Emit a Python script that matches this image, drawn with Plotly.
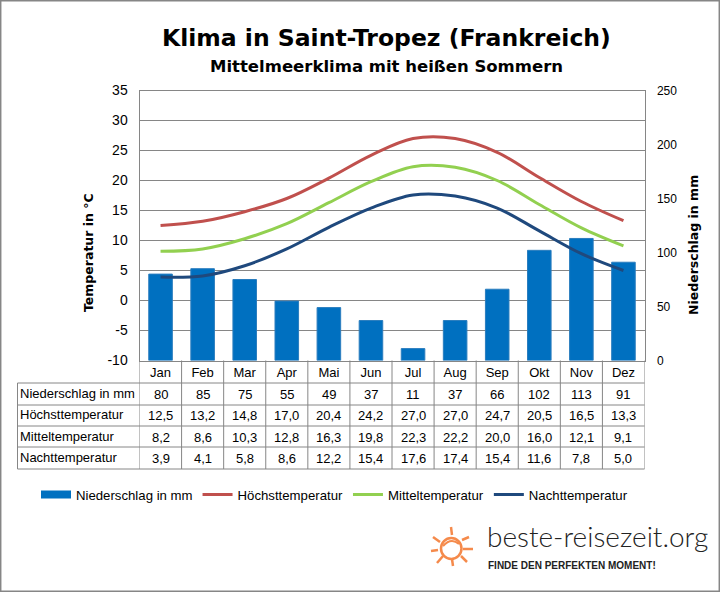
import plotly.graph_objects as go

months = ['Jan', 'Feb', 'Mar', 'Apr', 'Mai', 'Jun', 'Jul', 'Aug', 'Sep', 'Okt', 'Nov', 'Dez']
niederschlag = [80, 85, 75, 55, 49, 37, 11, 37, 66, 102, 113, 91]
hoechst = [12.5, 13.2, 14.8, 17.0, 20.4, 24.2, 27.0, 27.0, 24.7, 20.5, 16.5, 13.3]
mittel = [8.2, 8.6, 10.3, 12.8, 16.3, 19.8, 22.3, 22.2, 20.0, 16.0, 12.1, 9.1]
nacht = [3.9, 4.1, 5.8, 8.6, 12.2, 15.4, 17.6, 17.4, 15.4, 11.6, 7.8, 5.0]
row_labels = ['Niederschlag in mm', 'Höchsttemperatur', 'Mitteltemperatur', 'Nachttemperatur']
temp_ticks = [-10, -5, 0, 5, 10, 15, 20, 25, 30, 35]

W, H = 720, 592
FONT = 'Liberation Sans'
GREY = '#868686'
ORANGE = '#F58A4B'


def px(x):
    return x / W


def py(y):
    return 1 - y / H


def comma(v):
    return f'{v:.1f}'.replace('.', ',')


def label(text, x, y, size=13, family=FONT, color='black', xref='paper', xanchor='center', angle=0, weight=None):
    return dict(text=text, x=x, y=y, xref=xref, yref='paper', xanchor=xanchor, yanchor='middle', textangle=angle,
                showarrow=False, font=dict(family=family, size=size, color=color, weight=weight))


fig = go.Figure()

# bars on their own axis so they sit above the grid of the temperature axis
fig.add_trace(go.Bar(x=months, y=niederschlag, yaxis='y2', marker=dict(color='#0070C0', line=dict(color='#2A7DBE', width=1)),
                     width=0.56, showlegend=False))
# wide legend swatch for the bars
fig.add_trace(go.Scatter(x=[None], y=[None], yaxis='y3', mode='lines', name=row_labels[0],
                         line=dict(color='#0070C0', width=8)))
for vals, name, col in [(hoechst, row_labels[1], '#C0504D'), (mittel, row_labels[2], '#92D050'), (nacht, row_labels[3], '#1F497D')]:
    fig.add_trace(go.Scatter(x=months, y=vals, yaxis='y3', mode='lines', name=name,
                             line=dict(color=col, width=3, shape='spline', smoothing=1)))

# temperature grid lives on the base axis
fig.add_trace(go.Scatter(x=months, y=[None] * 12, yaxis='y', mode='lines', showlegend=False))

# table under the plot
table_rows = [[str(v) for v in niederschlag], [comma(v) for v in hoechst], [comma(v) for v in mittel], [comma(v) for v in nacht]]
row_lines = [383, 405, 426, 447, 469]
row_centers = [394, 415.5, 437, 458]
notes = []
for name, vals, yc in zip(row_labels, table_rows, row_centers):
    notes.append(label(name, px(17.5), py(yc - 1), xanchor='left'))
    for m, v in zip(months, vals):
        notes.append(label(v, m, py(yc), xref='x'))

shapes = [dict(type='rect', xref='paper', yref='paper', x0=px(0.7), x1=px(719.3), y0=py(591.3), y1=py(0.7), line=dict(color=GREY, width=1.5))]
for y in row_lines:
    shapes.append(dict(type='line', xref='paper', yref='paper', x0=px(17.5), x1=px(644.5), y0=py(y), y1=py(y), line=dict(color=GREY, width=1)))
shapes.append(dict(type='line', xref='paper', yref='paper', x0=px(17.5), x1=px(17.5), y0=py(383), y1=py(469), line=dict(color=GREY, width=1)))
for i in range(13):
    shapes.append(dict(type='line', xref='x', yref='paper', x0=i - 0.5, x1=i - 0.5, y0=py(360.5), y1=py(469), line=dict(color=GREY, width=1)))

# sun logo
shapes.append(dict(type='circle', xref='paper', yref='paper', x0=px(441), x1=px(461.5), y0=py(559), y1=py(538), line=dict(color=ORANGE, width=2.5)))
for a, b, c, d in [(451, 527, 452, 535), (462, 540, 469, 537), (463, 549, 473, 549), (461, 556, 467, 562),
                   (452, 559, 453, 566), (443, 556, 437, 563), (438, 550, 431, 551), (440, 542, 433, 537)]:
    shapes.append(dict(type='line', xref='paper', yref='paper', x0=px(a), x1=px(c), y0=py(b), y1=py(d), line=dict(color=ORANGE, width=2.5)))
shapes.append(dict(type='path', xref='paper', yref='paper',
                   path=f'M{px(443)},{py(546)} Q{px(451)},{py(537)} {px(459)},{py(544)}', line=dict(color=ORANGE, width=2)))

notes += [
    label('<b>Klima in Saint-Tropez (Frankreich)</b>', px(386.5), py(38), size=23.5, family='DejaVu Sans'),
    label('<b>Mittelmeerklima mit heißen Sommern</b>', px(386.5), py(67), size=16.5, family='DejaVu Sans'),
    label('<b>Temperatur in °C</b>', px(88), py(253), size=12.5, family='DejaVu Sans', angle=-90),
    label('<b>Niederschlag in mm</b>', px(694), py(245), size=12.5, family='DejaVu Sans', angle=-90),
    label('beste-reisezeit.org', px(485), py(536), size=28, family='Lato', color='#222222', xanchor='left', weight=300),
    label('<b>FINDE DEN PERFEKTEN MOMENT!</b>', px(486), py(565), size=10, color='#222222', xanchor='left'),
]

dom_x = [px(139.5), px(644.5)]
dom_y = [py(360.5), py(90.5)]
fig.update_layout(
    width=W, height=H, margin=dict(l=0, r=0, t=0, b=0, autoexpand=False), paper_bgcolor='white', plot_bgcolor='white',
    font=dict(family=FONT, size=13, color='black'),
    xaxis=dict(domain=dom_x, type='category', categoryorder='array', categoryarray=months, range=[-0.5, 11.5],
               showgrid=False, showline=True, linecolor=GREY, mirror=True, ticks='', tickfont=dict(size=13), fixedrange=True),
    yaxis=dict(domain=dom_y, range=[-10, 35], tickvals=temp_ticks, ticktext=[str(t) for t in temp_ticks], showgrid=True,
               gridcolor=GREY, gridwidth=1, zeroline=False, showline=True, linecolor=GREY, mirror=True,
               tickfont=dict(size=14), ticks='outside', ticklen=8, tickcolor='white', fixedrange=True),
    yaxis2=dict(domain=dom_y, overlaying='y', side='right', range=[0, 250], dtick=50, showgrid=False, zeroline=False,
                tickfont=dict(size=12), ticks='outside', ticklen=9, tickcolor='white', fixedrange=True),
    yaxis3=dict(domain=dom_y, overlaying='y', range=[-10, 35], visible=False, fixedrange=True),
    legend=dict(orientation='h', x=px(36), xanchor='left', y=py(495), yanchor='middle', font=dict(size=13.2),
                itemwidth=30, bgcolor='rgba(0,0,0,0)'),
    shapes=shapes,
    annotations=notes,
)

fig.write_html("out.html", config={'displayModeBar': False},
               post_script="document.body.style.margin='0';window.dispatchEvent(new Event('resize'));")
